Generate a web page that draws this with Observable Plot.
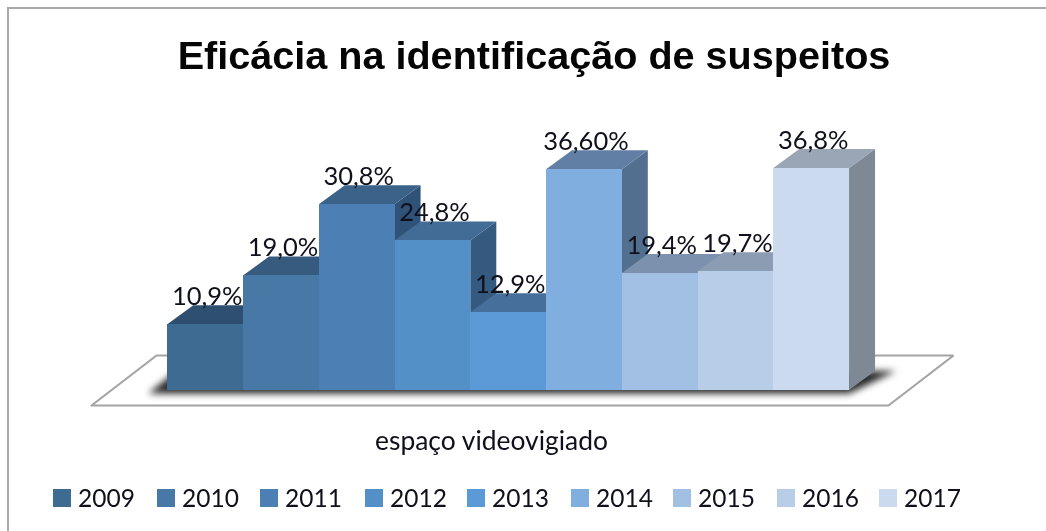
<!DOCTYPE html>
<html lang="pt">
<head>
<meta charset="utf-8">
<script src="https://cdn.jsdelivr.net/npm/d3@7"></script>
<script src="https://cdn.jsdelivr.net/npm/@observablehq/plot@0.6"></script>
<style>
html,body{margin:0;padding:0;background:#fff}
#frame{position:relative;width:1046px;height:531px;overflow:hidden;background:#fff}
#border{position:absolute;left:7px;top:7px;width:1045px;height:540px;border:2px solid #a9a9a9;box-sizing:border-box}
h1{position:absolute;left:0;right:0;top:30px;margin:0;padding-left:22px;text-align:center;font:bold 39.6px "Liberation Sans",Arial,sans-serif;color:#050505;line-height:50px;filter:blur(.4px)}
#plot{position:absolute;left:0;top:0}
#legend{position:absolute;left:0;top:0;font:24.5px Lato,sans-serif;color:#10101c}
.item{position:absolute;top:483px;height:30px;line-height:30px;white-space:nowrap}
.lab{filter:blur(.3px)}
.sw{position:absolute;left:0;top:6px;width:18px;height:18px}
.lab{position:absolute;left:25px;top:0}
</style>
</head>
<body>
<div id="frame">
  <div id="border"></div>
  <div id="plot"></div>
  <h1>Eficácia na identificação de suspeitos</h1>
  <div id="legend"></div>
</div>
<script>
const years = ["2009","2010","2011","2012","2013","2014","2015","2016","2017"];
const values = [10.9,19.0,30.8,24.8,12.9,36.6,19.4,19.7,36.8];
const labels = ["10,9%","19,0%","30,8%","24,8%","12,9%","36,60%","19,4%","19,7%","36,8%"];
const frontColors = ["#3e6b92","#4778a6","#4c7fb4","#5490c8","#5b9ad7","#80aede","#a2bfe4","#b8cde8","#cbdaee"];
const topColors   = ["#2f4f70","#375a7f","#3b6288","#426c96","#46709b","#617fa5","#7b91ad","#8c9cb2","#9aa5b6"];
const sideColors  = ["#2c4a69","#31537a","#2f5278","#355a80","#3d6488","#536f8f","#6a7f99","#76879c","#7e8995"];

// layout constants (pixels)
const W = 1046, H = 531, baseY = 390, pxPerPct = 6.03, barW = 75.75, left = 167.3;
const depthX = 26 / barW, depthY = 19 / pxPerPct;   // 3D depth in scale units
const floor = {front: -15 / pxPerPct, back: 35 / pxPerPct, x0: (91 - left) / barW, x1: (888 - left) / barW, skew: 65 / barW};

const n = years.length;
const rows = years.map((year, i) => ({year, i, v: values[i], label: labels[i], front: frontColors[i], top: topColors[i], side: sideColors[i]}));

const sideRows = rows.flatMap(d => [
  {year: d.year, x: d.i + 1, y1: 0, y2: d.v, fill: d.side},
  {year: d.year, x: d.i + 1 + depthX, y1: depthY, y2: d.v + depthY, fill: d.side}
]);
const topRows = rows.flatMap(d => [
  {year: d.year, x: d.i, y1: d.v, y2: d.v, fill: d.top},
  {year: d.year, x: d.i + depthX, y1: d.v, y2: d.v + depthY, fill: d.top},
  {year: d.year, x: d.i + 1, y1: d.v, y2: d.v + depthY, fill: d.top},
  {year: d.year, x: d.i + 1 + depthX, y1: d.v + depthY, y2: d.v + depthY, fill: d.top}
]);
const floorOutline = [
  {x: floor.x0, y: floor.front},
  {x: floor.x1, y: floor.front},
  {x: floor.x1 + floor.skew, y: floor.back},
  {x: floor.x0 + floor.skew, y: floor.back},
  {x: floor.x0, y: floor.front}
];
// soft shadow cast by the block of bars on the floor
const shadowBack = 19 / pxPerPct, shadowFront = -3.5 / pxPerPct;
const shadowRows = [
  {x: -0.25, y1: shadowFront, y2: shadowFront},
  {x: 0.12, y1: shadowFront, y2: shadowBack},
  {x: n, y1: shadowFront, y2: shadowBack},
  {x: n + 0.62, y1: shadowBack, y2: shadowBack}
];

const chart = Plot.plot({
  width: W, height: H,
  margin: 0,
  x: {type: "linear", domain: [-left / barW, (W - left) / barW], range: [0, W], axis: null},
  y: {type: "linear", domain: [(baseY - H) / pxPerPct, baseY / pxPerPct], range: [H, 0], axis: null},
  color: {type: "identity"},
  style: {background: "transparent", overflow: "visible"},
  marks: [
    Plot.line(floorOutline, {x: "x", y: "y", stroke: "#a4a4a4", strokeWidth: 2.2, strokeLinejoin: "miter", curve: "linear"}),
    Plot.areaY(shadowRows, {x: "x", y1: "y1", y2: "y2", fill: "#262626", imageFilter: "blur(3.5px)"}),
    Plot.areaY(sideRows, {x: "x", y1: "y1", y2: "y2", z: "year", fill: "fill"}),
    Plot.areaY(topRows, {x: "x", y1: "y1", y2: "y2", z: "year", fill: "fill"}),
    Plot.rectY(rows, {x1: "i", x2: d => d.i + 1, y1: 0, y2: "v", fill: "front", inset: 0, shapeRendering: "crispEdges"}),
    Plot.text(rows, {
      x: d => d.i + 0.5, y: "v", text: "label", dx: 1.5, dy: -28,
      fontFamily: "Lato, sans-serif", fontSize: 25.5, fill: "#10101c", imageFilter: "blur(.3px)"
    }),
    Plot.text(["espaço videovigiado"], {
      x: (491 - left) / barW, y: (baseY - 441) / pxPerPct, text: d => d,
      fontFamily: "Lato, sans-serif", fontSize: 26.4, fill: "#10101c", imageFilter: "blur(.3px)"
    })
  ]
});
document.getElementById("plot").append(chart);

const legendLeft = [53, 157, 260, 365, 467, 571, 673, 777, 879];
const legend = document.getElementById("legend");
years.forEach((y, i) => {
  const item = document.createElement("div");
  item.className = "item";
  item.style.left = legendLeft[i] + "px";
  item.innerHTML = `<span class="sw" style="background:${frontColors[i]}"></span><span class="lab">${y}</span>`;
  legend.append(item);
});
</script>
</body>
</html>
